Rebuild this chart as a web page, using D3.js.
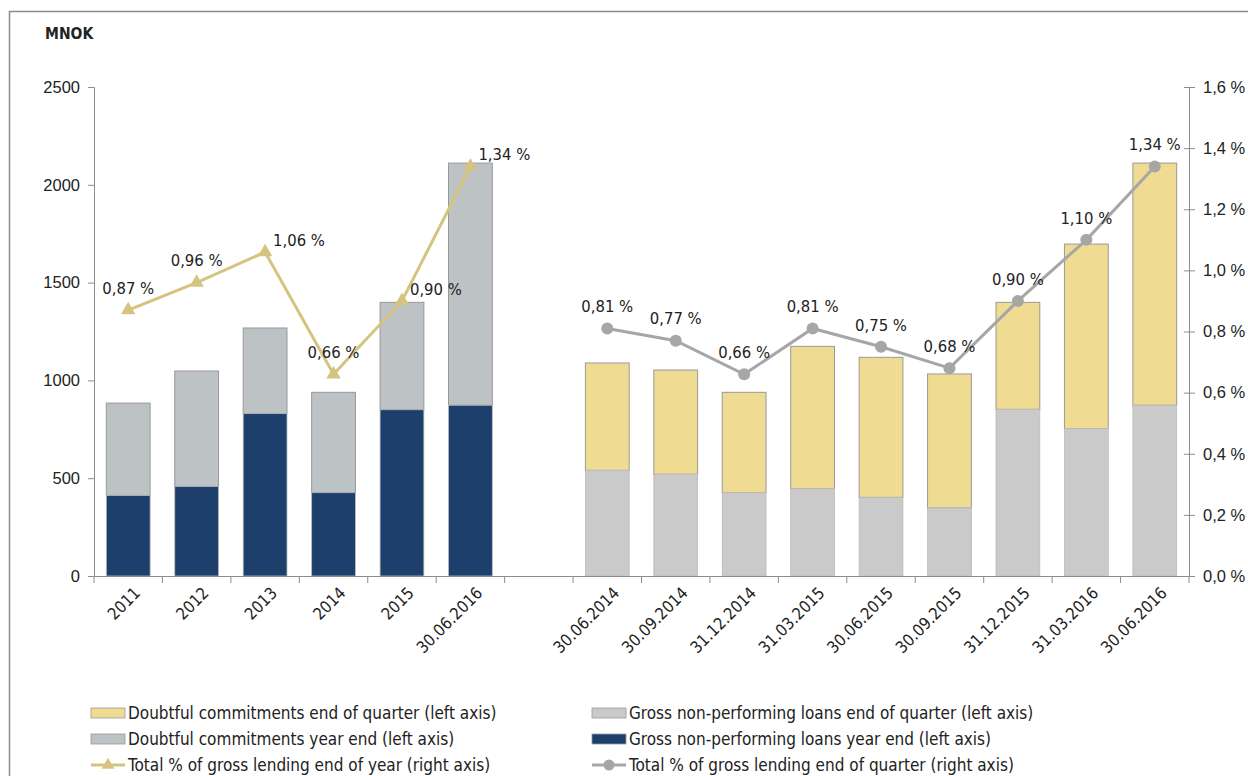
<!DOCTYPE html>
<html><head><meta charset="utf-8">
<script src="https://cdn.jsdelivr.net/npm/d3@7"></script>
<style>
body{margin:0;background:#fff;}
svg{display:block;font-family:"DejaVu Sans Condensed","DejaVu Sans",sans-serif;}
</style></head>
<body><svg id="c" width="1248" height="776"></svg>
<script>
// ---- data ----
const yearCats = ["2011","2012","2013","2014","2015","30.06.2016"];
const quarterCats = ["30.06.2014","30.09.2014","31.12.2014","31.03.2015","30.06.2015","30.09.2015","31.12.2015","31.03.2016","30.06.2016"];
const yearNPL = [412, 458, 830, 426, 850, 873];           // Gross non-performing loans year end
const yearDoubtful = [472, 590, 438, 513, 549, 1238];     // Doubtful commitments year end
const quarterNPL = [540, 520, 426, 446, 402, 348, 852, 753, 873];
const quarterDoubtful = [549, 533, 513, 728, 716, 685, 547, 944, 1238];
const yearPct = [0.87, 0.96, 1.06, 0.66, 0.90, 1.34];
const quarterPct = [0.81, 0.77, 0.66, 0.81, 0.75, 0.68, 0.90, 1.10, 1.34];
const leftTicks = [0, 500, 1000, 1500, 2000, 2500];
const rightTicks = [0, 0.2, 0.4, 0.6, 0.8, 1.0, 1.2, 1.4, 1.6];

// ---- styling ----
const C = {navy:"#1d3f6b", greyY:"#bdc2c5", greyQ:"#cacaca", yellow:"#efdc92",
  lineY:"#d5c47f", lineQ:"#a6a6a6", axis:"#8c8c8c", text:"#222"};
const yearLabelPos = ["above","above","right","above","right","right"];
const FS = 16.5;

const svg = d3.select("#c");
svg.append("rect").attr("x",9.5).attr("y",11.5).attr("width",1260).attr("height",800)
  .attr("fill","none").attr("stroke","#8a8a8a").attr("stroke-width",1.5);

const L = 94, R = 1189, T = 87, B = 576;
const cats = [...yearCats, "__gap__", ...quarterCats.map(d=>"q"+d)];
const x = d3.scaleBand().domain(cats).range([L,R]).paddingInner(0.36).paddingOuter(0.18);
const y = d3.scaleLinear().domain([0,2500]).range([B,T]);
const y2 = d3.scaleLinear().domain([0,1.6]).range([B,T]);
const cx = k => x(k) + x.bandwidth()/2;

// title
svg.append("text").attr("x",45).attr("y",39).attr("font-weight","bold").attr("font-size",15.5)
  .attr("fill",C.text).text("MNOK");

// left axis
const gl = svg.append("g").attr("transform",`translate(${L},0)`)
  .call(d3.axisLeft(y).tickValues(leftTicks).tickSize(6).tickFormat(d3.format("d")));
gl.select(".domain").attr("stroke",C.axis);
gl.selectAll(".tick line").attr("stroke",C.axis);
gl.selectAll("text").attr("font-size",FS).attr("fill",C.text).attr("font-family","inherit").attr("x",-14);

// right axis
const gr = svg.append("g").attr("transform",`translate(${R},0)`)
  .call(d3.axisRight(y2).tickValues(rightTicks).tickSize(6)
    .tickFormat(d => d3.format(".1f")(d).replace(".",",")+" %"));
gr.select(".domain").attr("stroke",C.axis);
gr.selectAll(".tick line").attr("stroke",C.axis).attr("x1",-5);
gr.selectAll("text").attr("font-size",FS).attr("fill",C.text).attr("font-family","inherit").attr("x",14);

// bars
const yearData = yearCats.map((c,i)=>({k:c, a:yearNPL[i], b:yearDoubtful[i]}));
const quarterData = quarterCats.map((c,i)=>({k:"q"+c, a:quarterNPL[i], b:quarterDoubtful[i]}));
function drawBars(data, colA, colB){
  const g = svg.append("g");
  g.selectAll(".b2").data(data).join("rect")
    .attr("x",d=>x(d.k)).attr("width",x.bandwidth())
    .attr("y",d=>y(d.a+d.b)).attr("height",d=>y(d.a)-y(d.a+d.b))
    .attr("fill",colB).attr("stroke","#999").attr("stroke-width",1);
  g.selectAll(".b1").data(data).join("rect")
    .attr("x",d=>x(d.k)).attr("width",x.bandwidth())
    .attr("y",d=>y(d.a)).attr("height",d=>B-y(d.a))
    .attr("fill",colA).attr("stroke","#bbb").attr("stroke-width",0.8);
}
drawBars(yearData, C.navy, C.greyY);
drawBars(quarterData, C.greyQ, C.yellow);

// x axis
svg.append("line").attr("x1",L).attr("x2",R).attr("y1",B+0.5).attr("y2",B+0.5).attr("stroke",C.axis);
const step = x.step();
const bounds = d3.range(cats.length+1).map(i => x(cats[0]) - x.paddingOuter()*step + i*step);
svg.append("g").selectAll("line").data(bounds).join("line")
  .attr("x1",d=>d).attr("x2",d=>d).attr("y1",B).attr("y2",B+7).attr("stroke",C.axis);
svg.append("g").selectAll("text").data(cats.filter(k=>k!=="__gap__")).join("text")
  .attr("transform",k=>`translate(${cx(k)+9},${B+14}) rotate(-45)`)
  .attr("text-anchor","end").attr("dy","0.35em").attr("font-size",FS).attr("fill",C.text)
  .text(k=>k.startsWith("q")?k.slice(1):k);

// lines
const fmtPct = v => d3.format(".2f")(v).replace(".",",")+" %";
const yearPts = yearCats.map((c,i)=>({x:cx(c), y:y2(yearPct[i]), v:yearPct[i], pos:yearLabelPos[i]}));
const quarterPts = quarterCats.map((c,i)=>({x:cx("q"+c), y:y2(quarterPct[i]), v:quarterPct[i], pos:"above"}));
const line = d3.line().x(d=>d.x).y(d=>d.y);
svg.append("path").datum(yearPts).attr("d",line).attr("fill","none").attr("stroke",C.lineY).attr("stroke-width",3);
svg.append("g").selectAll("path").data(yearPts).join("path")
  .attr("transform",d=>`translate(${d.x},${d.y})`)
  .attr("d",d3.symbol(d3.symbolTriangle,90)).attr("fill",C.lineY);
svg.append("path").datum(quarterPts).attr("d",line).attr("fill","none").attr("stroke",C.lineQ).attr("stroke-width",3);
svg.append("g").selectAll("circle").data(quarterPts).join("circle")
  .attr("cx",d=>d.x).attr("cy",d=>d.y).attr("r",6).attr("fill",C.lineQ);

function labels(pts){
  svg.append("g").selectAll("text").data(pts).join("text")
    .attr("x",d=>d.pos==="right"?d.x+8:d.x)
    .attr("y",d=>d.pos==="right"?d.y-12:d.y-22)
    .attr("text-anchor",d=>d.pos==="right"?"start":"middle")
    .attr("dy","0.35em").attr("font-size",FS).attr("fill",C.text)
    .text(d=>fmtPct(d.v));
}
labels(yearPts); labels(quarterPts);

// legend
const legend = [
  {t:"Doubtful commitments end of quarter (left axis)", type:"rect", c:C.yellow, col:0,row:0},
  {t:"Gross non-performing loans end of quarter (left axis)", type:"rect", c:C.greyQ, col:1,row:0},
  {t:"Doubtful commitments year end (left axis)", type:"rect", c:C.greyY, col:0,row:1},
  {t:"Gross non-performing loans year end (left axis)", type:"rect", c:C.navy, col:1,row:1},
  {t:"Total % of gross lending end of year (right axis)", type:"tri", c:C.lineY, col:0,row:2},
  {t:"Total % of gross lending end of quarter (right axis)", type:"circ", c:C.lineQ, col:1,row:2}
];
const lg = svg.append("g").selectAll("g").data(legend).join("g")
  .attr("transform",d=>`translate(${d.col?592:91},${713+d.row*26})`);
lg.filter(d=>d.type==="rect").append("rect").attr("x",0).attr("y",-5).attr("width",34).attr("height",10)
  .attr("fill",d=>d.c).attr("stroke","#999").attr("stroke-width",0.8);
lg.filter(d=>d.type!=="rect").append("line").attr("x1",0).attr("x2",34).attr("stroke",d=>d.c).attr("stroke-width",3);
lg.filter(d=>d.type==="tri").append("path").attr("transform","translate(17,0)")
  .attr("d",d3.symbol(d3.symbolTriangle,70)).attr("fill",d=>d.c);
lg.filter(d=>d.type==="circ").append("circle").attr("cx",17).attr("r",5.5).attr("fill",d=>d.c);
lg.append("text").attr("x",37).attr("dy","0.35em").attr("font-size",17).attr("fill",C.text).text(d=>d.t);
</script></body></html>
